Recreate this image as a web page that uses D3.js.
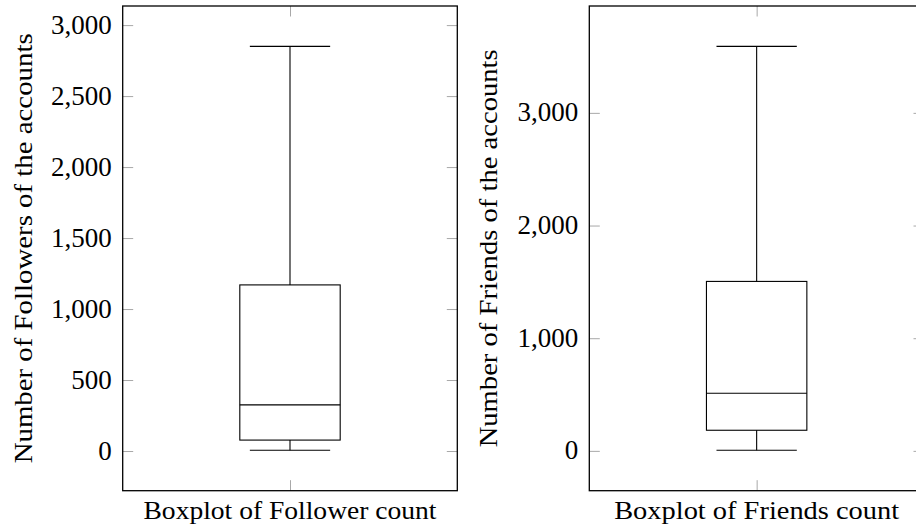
<!DOCTYPE html>
<html>
<head>
<meta charset="utf-8">
<script src="https://cdn.jsdelivr.net/npm/d3@7"></script>
<style>
  html, body { margin: 0; padding: 0; background: #fff; }
  svg { display: block; }
  text { font-family: "Liberation Serif", "DejaVu Serif", serif; fill: #000; }
</style>
</head>
<body>
<svg id="chart" width="916" height="530"></svg>
<script>
// Five-number summaries: [lower whisker, Q1, median, Q3, upper whisker]
const followerStats = [5, 77, 325, 1170, 2850];
const friendStats = [5, 183, 511, 1504, 3590];

const followerTicks = [0, 500, 1000, 1500, 2000, 2500, 3000];
const friendTicks = [0, 1000, 2000, 3000];

const xLabels = ["Boxplot of Follower count", "Boxplot of Friends count"];
const yLabels = ["Number of Followers of the accounts", "Number of Friends of the accounts"];

const svg = d3.select("#chart");
const fmt = d3.format(",");

const panels = [
  { stats: followerStats, ticks: followerTicks, xLabel: xLabels[0], yLabel: yLabels[0],
    left: 122.7, right: 457.3, yTitleX: 32, xLen: 293, yLen: 430 },
  { stats: friendStats, ticks: friendTicks, xLabel: xLabels[1], yLabel: yLabels[1],
    left: 589.3, right: 924, yTitleX: 497, xLen: 285, yLen: 398 }
];
const plotTop = 6, plotBottom = 490.7;
const tickLen = 10.5;

panels.forEach(p => {
  const lo = p.stats[0], hi = p.stats[4];
  const pad = (hi - lo) * 0.1;
  const y = d3.scaleLinear().domain([lo - pad, hi + pad]).range([plotBottom, plotTop]);
  const x = d3.scaleLinear().domain([0, 2]).range([p.left, p.right]);
  const g = svg.append("g");

  // inward ticks on all four sides (gray)
  const yAxisL = d3.axisRight(y).tickValues(p.ticks).tickSize(tickLen).tickFormat("");
  const yAxisR = d3.axisLeft(y).tickValues(p.ticks).tickSize(tickLen).tickFormat("");
  g.append("g").attr("transform", `translate(${p.left},0)`).call(yAxisL);
  g.append("g").attr("transform", `translate(${p.right},0)`).call(yAxisR);
  const xAxisB = d3.axisTop(x).tickValues([1]).tickSize(tickLen).tickFormat("");
  const xAxisT = d3.axisBottom(x).tickValues([1]).tickSize(tickLen).tickFormat("");
  g.append("g").attr("transform", `translate(0,${plotBottom})`).call(xAxisB);
  g.append("g").attr("transform", `translate(0,${plotTop})`).call(xAxisT);
  g.selectAll(".domain").remove();
  g.selectAll(".tick line").attr("stroke", "#a8a8a8").attr("stroke-width", 1);

  // tick labels
  g.selectAll(".ylab").data(p.ticks).enter().append("text")
    .attr("x", p.left - 11)
    .attr("y", d => y(d) + 8.5)
    .attr("text-anchor", "end")
    .style("font-size", "27px")
    .text(d => fmt(d));

  // box plot
  const s = p.stats;
  const cx = x(1), bw = x(1.3) - x(1), cw = x(1.24) - x(1);
  const line = (x1, y1, x2, y2) => g.append("line")
    .attr("x1", x1).attr("y1", y1).attr("x2", x2).attr("y2", y2)
    .attr("stroke", "#000").attr("stroke-width", 1.1);
  line(cx, y(s[0]), cx, y(s[1]));
  line(cx, y(s[3]), cx, y(s[4]));
  line(cx - cw, y(s[0]), cx + cw, y(s[0]));
  line(cx - cw, y(s[4]), cx + cw, y(s[4]));
  g.append("rect")
    .attr("x", cx - bw).attr("y", y(s[3]))
    .attr("width", 2 * bw).attr("height", y(s[1]) - y(s[3]))
    .attr("fill", "none").attr("stroke", "#000").attr("stroke-width", 1.1);
  line(cx - bw, y(s[2]), cx + bw, y(s[2]));

  // frame
  g.append("rect")
    .attr("x", p.left).attr("y", plotTop)
    .attr("width", p.right - p.left).attr("height", plotBottom - plotTop)
    .attr("fill", "none").attr("stroke", "#000").attr("stroke-width", 1.3);

  // axis titles
  g.append("text")
    .attr("x", cx).attr("y", 518.5)
    .attr("text-anchor", "middle")
    .attr("textLength", p.xLen)
    .attr("lengthAdjust", "spacingAndGlyphs")
    .style("font-size", "26px")
    .text(p.xLabel);
  g.append("text")
    .attr("transform", `translate(${p.yTitleX},${(plotTop + plotBottom) / 2}) rotate(-90)`)
    .attr("text-anchor", "middle")
    .attr("textLength", p.yLen)
    .attr("lengthAdjust", "spacingAndGlyphs")
    .style("font-size", "26px")
    .text(p.yLabel);
});
</script>
</body>
</html>
